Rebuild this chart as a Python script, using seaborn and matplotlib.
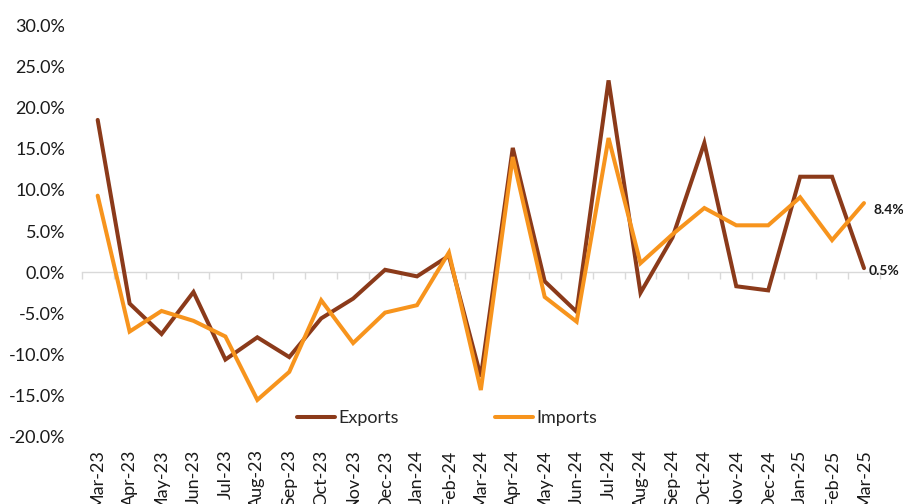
import numpy as np
import pandas as pd
import matplotlib
matplotlib.use('Agg')
import matplotlib.pyplot as plt
from matplotlib.ticker import FixedLocator, FuncFormatter
from matplotlib.lines import Line2D
import seaborn as sns

# ── Data (monthly growth, %) ──────────────────────────────────────────────────
months = ['Mar-23', 'Apr-23', 'May-23', 'Jun-23', 'Jul-23', 'Aug-23', 'Sep-23',
          'Oct-23', 'Nov-23', 'Dec-23', 'Jan-24', 'Feb-24', 'Mar-24', 'Apr-24',
          'May-24', 'Jun-24', 'Jul-24', 'Aug-24', 'Sep-24', 'Oct-24', 'Nov-24',
          'Dec-24', 'Jan-25', 'Feb-25', 'Mar-25']
exports = [18.5, -3.8, -7.5, -2.4, -10.6, -7.9, -10.3, -5.6, -3.2, 0.3, -0.5, 2.0,
           -12.7, 15.1, -1.1, -4.8, 23.3, -2.5, 4.2, 15.7, -1.7, -2.2, 11.6, 11.6, 0.5]
imports = [9.3, -7.2, -4.7, -5.9, -7.8, -15.5, -12.1, -3.4, -8.6, -4.9, -4.0, 2.4,
           -14.3, 14.0, -3.0, -6.0, 16.3, 1.1, 4.6, 7.8, 5.7, 5.7, 9.1, 3.9, 8.4]

COLORS = {'Exports': '#8B3A1A', 'Imports': '#F7941D'}

df = pd.DataFrame({'Month': months * 2,
                   'Value': exports + imports,
                   'Series': ['Exports'] * len(months) + ['Imports'] * len(months)})
df['Pos'] = df.groupby('Series').cumcount()

sns.set_style('white')
plt.rcParams['font.family'] = ['Lato', 'DejaVu Sans']

fig = plt.figure(figsize=(9.04, 5.04), dpi=100)
ax = fig.add_axes([0.0904, 0.133, 0.883, 0.817])

sns.lineplot(data=df, x='Pos', y='Value', hue='Series', palette=COLORS,
             linewidth=2.9, ax=ax, legend=False)
for line in ax.lines:
    line.set_solid_capstyle('round')
    line.set_solid_joinstyle('miter')

n = len(months)
ax.set_xlim(-0.5, n - 0.5)
ax.set_ylim(-20, 30)
ax.set_yticks(np.arange(-20, 31, 5))
ax.yaxis.set_major_formatter(FuncFormatter(lambda v, _: f'{v:.1f}%'))
ax.tick_params(axis='y', length=0, pad=12, labelsize=13, labelcolor='#1a1a1a')

# category labels at bottom, rotated
ax.set_xticks(range(n))
ax.set_xticklabels(months)
ax.tick_params(axis='x', which='major', length=0, pad=9, bottom=True, top=False,
               labelrotation=90, labelsize=13, labelcolor='#1a1a1a')

# zero line with boundary tick marks
for side in ['left', 'right', 'bottom']:
    ax.spines[side].set_visible(False)
ax.spines['top'].set_position(('data', 0))
ax.spines['top'].set_color('#d9d9d9')
ax.spines['top'].set_linewidth(1.0)
ax.spines['top'].set_zorder(0)
ax.xaxis.set_minor_locator(FixedLocator(np.arange(-0.5, n, 1.0)))
ax.tick_params(axis='x', which='minor', top=True, bottom=False, direction='in',
               length=5, width=1.0, color='#d9d9d9')
ax.set_xlabel('')
ax.set_ylabel('')

# end labels
ax.annotate(f'{imports[-1]:.1f}%', (n - 1, imports[-1]), xytext=(7, -5),
            textcoords='offset points', fontsize=10, fontweight='bold',
            color='#1a1a1a', va='center', ha='left')
ax.annotate(f'{exports[-1]:.1f}%', (n - 1, exports[-1]), xytext=(3, -2),
            textcoords='offset points', fontsize=10, fontweight='bold',
            color='#1a1a1a', va='center', ha='left')

handles = [Line2D([0], [0], color=COLORS[s], linewidth=2.9) for s in ['Exports', 'Imports']]
ax.legend(handles, ['Exports', 'Imports'], loc='center', bbox_to_anchor=(0.458, 0.046),
          ncol=2, frameon=False, fontsize=13, handlelength=2.1, handletextpad=0.2,
          columnspacing=5.3)

plt.savefig('out.png', dpi=100)
